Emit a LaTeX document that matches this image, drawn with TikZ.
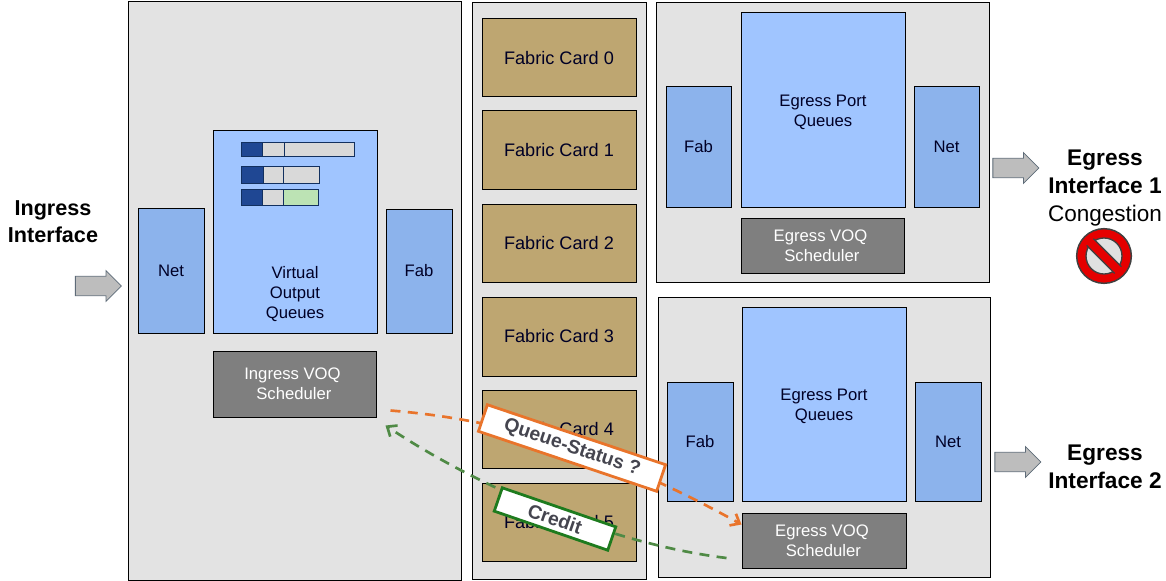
\documentclass[tikz,border=0pt]{standalone}
\usepackage{fontspec}
\setmainfont{Liberation Sans}
\usetikzlibrary{shapes.arrows,arrows.meta,calc}
\definecolor{panelgray}{HTML}{E3E3E3}
\definecolor{lightblue}{HTML}{A0C5FF}
\definecolor{midblue}{HTML}{8CB3EC}
\definecolor{cardbrown}{HTML}{BEA671}
\definecolor{schedgray}{HTML}{7F7F7F}
\definecolor{navy}{HTML}{1F4793}
\definecolor{barline}{HTML}{12305F}
\definecolor{bargray}{HTML}{D9D9D9}
\definecolor{bargreen}{HTML}{BCE3B4}
\definecolor{orangeline}{HTML}{E9742B}
\definecolor{greenline}{HTML}{4F8A45}
\definecolor{greenbox}{HTML}{1E7B1E}
\definecolor{labeltext}{HTML}{45454F}
\definecolor{arrowgray}{HTML}{BDBDBD}
\definecolor{arrowline}{HTML}{5E6B78}
\tikzset{
  x=0.75pt,y=-0.75pt,
  boxbase/.style={draw=black,line width=0.75pt,inner sep=0pt,align=center,text=black!85!blue},
  panel/.style={boxbase,fill=panelgray},
  queuebox/.style={boxbase,fill=lightblue,font=\fontsize{12.5}{15}\selectfont},
  sidebox/.style={boxbase,fill=midblue,font=\fontsize{12.5}{15}\selectfont},
  cardbox/.style={boxbase,fill=cardbrown,font=\fontsize{13.6}{16}\selectfont},
  schedbox/.style={boxbase,fill=schedgray,text=white,font=\fontsize{12.5}{15}\selectfont},
  darkseg/.style={draw=barline,line width=0.75pt,fill=navy,inner sep=0pt},
  greyseg/.style={draw=barline,line width=0.75pt,fill=bargray,inner sep=0pt},
  greenseg/.style={draw=barline,line width=0.75pt,fill=bargreen,inner sep=0pt},
  biglabel/.style={align=center,inner sep=0pt,font=\fontsize{16.2}{20.5}\selectfont\bfseries,text=black},
  egresslabel/.style={align=center,inner sep=0pt,font=\fontsize{17}{21}\selectfont\bfseries,text=black},
  bigarrow/.style={single arrow,draw=arrowline,fill=arrowgray,line width=0.6pt,minimum height=34.5pt,inner sep=7pt,single arrow head extend=4.2pt,single arrow tip angle=90,anchor=center},
  floworange/.style={draw=orangeline,line width=2pt,dash pattern=on 7.5pt off 5.5pt,-{Straight Barb[length=6pt,width=10pt]}},
  flowgreen/.style={draw=greenline,line width=2pt,dash pattern=on 7.5pt off 5.5pt,-{Straight Barb[length=6pt,width=10pt]}},
  taglabel/.style={fill=white,line width=2.1pt,inner sep=0pt,align=center,text=labeltext,font=\fontsize{14.5}{17}\selectfont\bfseries}
}
% name, style, x1, y1, x2, y2, text (pixel coordinates)
\newcommand{\pxbox}[7]{\node[#2,minimum width=#5*0.75pt-#3*0.75pt,minimum height=#6*0.75pt-#4*0.75pt] (#1) at ({(#3+#5)/2},{(#4+#6)/2}) {#7};}
\begin{document}
\begin{tikzpicture}
\useasboundingbox (0,0) rectangle (1166,581);
% panels
\pxbox{ingresspanel}{panel}{128}{2}{461}{580}{}
\pxbox{fabricpanel}{panel}{472}{3}{646}{579}{}
\pxbox{egresspanelA}{panel}{656}{3}{989}{282}{}
\pxbox{egresspanelB}{panel}{658}{297}{990}{577}{}
% ingress
\pxbox{inet}{sidebox}{138}{208}{204}{333}{Net}
\pxbox{ivoq}{queuebox}{213}{131}{377}{333}{\\[87pt]Virtual\\Output\\Queues}
\pxbox{ifab}{sidebox}{386}{209}{452}{333}{Fab}
\pxbox{isched}{schedbox}{213}{351}{376}{417}{Ingress VOQ\hspace*{3pt}\\Scheduler\hspace*{1pt}}
% queue bars
\pxbox{barAa}{darkseg}{241}{143}{262}{157}{}
\pxbox{barAb}{greyseg}{262}{143}{284}{157}{}
\pxbox{barAc}{greyseg}{284}{143}{354}{157}{}
\pxbox{barBa}{darkseg}{241}{166}{263}{183}{}
\pxbox{barBb}{greyseg}{263}{166}{283}{183}{}
\pxbox{barBc}{greyseg}{283}{166}{319}{183}{}
\pxbox{barCa}{darkseg}{241}{189}{262}{205}{}
\pxbox{barCb}{greyseg}{262}{189}{283}{205}{}
\pxbox{barCc}{greenseg}{283}{189}{318}{205}{}
% fabric cards
\pxbox{card0}{cardbox}{482}{19}{636}{97}{Fabric Card 0}
\pxbox{card1}{cardbox}{482}{111}{636}{189}{Fabric Card 1}
\pxbox{card2}{cardbox}{482}{204}{636}{282}{Fabric Card 2}
\pxbox{card3}{cardbox}{482}{297}{636}{376}{Fabric Card 3}
\pxbox{card4}{cardbox}{482}{390}{636}{468}{Fabric Card 4}
\pxbox{card5}{cardbox}{482}{483}{636}{561}{Fabric Card 5}
% egress 1
\pxbox{afab}{sidebox}{666}{87}{731}{207}{Fab}
\pxbox{aepq}{queuebox}{741}{13}{905}{207}{\\[-3pt]Egress Port\\Queues}
\pxbox{anet}{sidebox}{914}{87}{979}{207}{Net}
\pxbox{asched}{schedbox}{741}{218}{904}{273}{Egress VOQ\hspace*{3pt}\\Scheduler\hspace*{1pt}}
% egress 2
\pxbox{bfab}{sidebox}{667}{382}{733}{501}{Fab}
\pxbox{bepq}{queuebox}{742}{307}{906}{501}{\\[-3pt]Egress Port\\Queues}
\pxbox{bnet}{sidebox}{915}{382}{981}{501}{Net}
\pxbox{bsched}{schedbox}{742}{513}{906}{568}{Egress VOQ\hspace*{3pt}\\Scheduler\hspace*{1pt}}
% interface labels
\node[biglabel] (inglabel) at (53,222) {Ingress\\Interface};
\node[egresslabel] (egalabel) at (1105,172) {Egress\\Interface 1};
\node[inner sep=0pt,font=\fontsize{16.9}{20}\selectfont,text=black] (conglabel) at (1105,216) {Congestion};
\node[egresslabel] (egblabel) at (1105,467) {Egress\\Interface 2};
% block arrows
\node[bigarrow] (inarrow) at (93.5,286) {};
\node[bigarrow] (outarrowA) at (1011,168) {};
\node[bigarrow] (outarrowB) at (1013,462) {};
% no-entry sign
\node[circle,draw=black!75,fill=red!90!black,line width=1.1pt,minimum size=41pt,inner sep=0pt] (nosign) at (1104,256) {};
\fill[white!88!black,draw=black!75,line width=1pt] (nosign.center) circle[radius=18];
\draw[draw=black!75,line width=8pt] (nosign.center) ++(-14,-14) -- ++(28,28);
\draw[draw=red!90!black,line width=6pt] (nosign.center) ++(-16.5,-16.5) -- ++(33,33);
% flows
\coordinate (orangestart) at ($(isched.south east)+(14,-7)$);
\coordinate (orangeend) at ($(bsched.north west)+(0,12)$);
\coordinate (greenstart) at ($(bsched.west)+(-15,17.5)$);
\coordinate (greenend) at ($(isched.south east)+(9,8)$);
\draw[floworange] (orangestart) .. controls (480,418) and (590,440) .. (orangeend);
\draw[flowgreen] (greenstart) .. controls (620,545) and (490,495) .. (greenend);
% tags
\node[taglabel,draw=orangeline,rotate=-18.6,minimum width=141pt,minimum height=21pt] (queuetag) at (572,448) {Queue-Status ?};
\node[taglabel,draw=greenbox,rotate=-19,minimum width=90pt,minimum height=18.5pt] (credittag) at (555,519) {Credit};
\end{tikzpicture}
\end{document}
